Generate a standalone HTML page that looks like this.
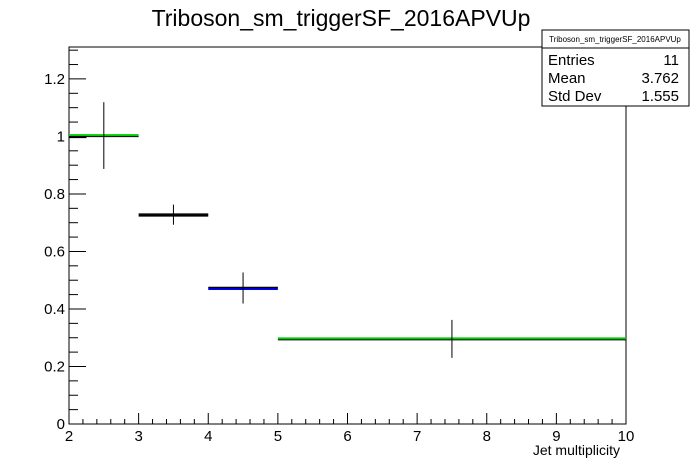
<!DOCTYPE html>
<html><head><meta charset="utf-8"><style>
body{margin:0;background:#fff;}
svg{display:block;font-family:"Liberation Sans",Arial,sans-serif;}
</style></head><body>
<svg id="c" width="696" height="472" viewBox="0 0 696 472">
<text x="341" y="26" font-size="23" text-anchor="middle">Triboson_sm_triggerSF_2016APVUp</text>
<rect x="69" y="47" width="557" height="377" fill="none" stroke="#000" stroke-width="1"/>
<g id="axes"></g>
<g id="marks"></g>
<text x="620" y="455" font-size="14" text-anchor="end">Jet multiplicity</text>
<g>
<rect x="542" y="30" width="147" height="76" fill="#fff" stroke="#000"/>
<line x1="542" y1="48" x2="689" y2="48" stroke="#000"/>
<text x="615" y="42" font-size="8" text-anchor="middle">Triboson_sm_triggerSF_2016APVUp</text>
<text x="548" y="65" font-size="15">Entries</text>
<text x="679" y="65" font-size="15" text-anchor="end">11</text>
<text x="548" y="83" font-size="15">Mean</text>
<text x="679" y="83" font-size="15" text-anchor="end">3.762</text>
<text x="548" y="101" font-size="15">Std Dev</text>
<text x="679" y="101" font-size="15" text-anchor="end">1.555</text>
</g>
</svg>
<script>
const binLow=[2,3,4,5];
const binHigh=[3,4,5,10];
const values=[1.003,0.728,0.473,0.296];
const errors=[0.116,0.035,0.054,0.066];
const binColors=["#00cc00","#000000","#0000ff","#00cc00"];

const xTicks=[2,3,4,5,6,7,8,9,10];
const yTicks=[0,0.2,0.4,0.6,0.8,1,1.2];
const yTickLabels=["0","0.2","0.4","0.6","0.8","1","1.2"];

const X0=69,X1=626,Y0=424,YT=47,xmin=2,xmax=10,ymin=0,ymax=1.311;
const sx=v=>X0+(v-xmin)/(xmax-xmin)*(X1-X0);
const sy=v=>Y0-(v-ymin)/(ymax-ymin)*(Y0-YT);
const NS="http://www.w3.org/2000/svg";
function mk(tag,attrs,parent){const e=document.createElementNS(NS,tag);for(const k in attrs)e.setAttribute(k,attrs[k]);parent.appendChild(e);return e;}
const axes=document.getElementById('axes'),marks=document.getElementById('marks');
for(let v=xmin;v<=xmax+1e-9;v+=0.2){
  const major=Math.abs(v-Math.round(v))<1e-6;
  const t=mk('line',{x1:sx(v),x2:sx(v),y1:Y0,y2:Y0-(major?11:5),stroke:'#000'},axes);
  
  
}
xTicks.forEach(v=>{
  const t=mk('text',{x:sx(v),y:Y0+17,'font-size':15,'text-anchor':'middle'},axes);
  t.textContent=v;
  
  
});
for(let v=0;v<=ymax+1e-9;v+=0.05){
  const major=Math.abs(v/0.2-Math.round(v/0.2))<1e-6;
  const t=mk('line',{x1:X0,x2:X0+(major?17:9),y1:sy(v),y2:sy(v),stroke:'#000'},axes);
  
  
}
yTicks.forEach((v,i)=>{
  const t=mk('text',{x:X0-4,y:sy(v)+5,'font-size':15,'text-anchor':'end'},axes);
  t.textContent=yTickLabels[i];
  
  
});
const s=mk('line',{x1:sx(2),x2:sx(2.25),y1:sy(values[0])+1.5,y2:sy(values[0])+1.5,stroke:'#000','stroke-width':2},marks);


values.forEach((v,i)=>{
  const y=sy(v),xa=sx(binLow[i]),xb=sx(binHigh[i]),xc=(xa+xb)/2;
  const g=mk('g',{},marks);
  
  
  const below=binColors[i]!=="#00cc00";
  mk('line',{x1:xa,x2:xb,y1:y+(below?1:-0.5),y2:y+(below?1:-0.5),stroke:binColors[i],'stroke-width':2},g);
  mk('line',{x1:xa,x2:xb,y1:y+(below?-0.5:1),y2:y+(below?-0.5:1),stroke:'#000','stroke-width':below?1.5:1},g);
  mk('line',{x1:xc,x2:xc,y1:sy(v+errors[i]),y2:sy(v-errors[i]),stroke:'#000','stroke-width':1},g);
});
</script>
</body></html>
